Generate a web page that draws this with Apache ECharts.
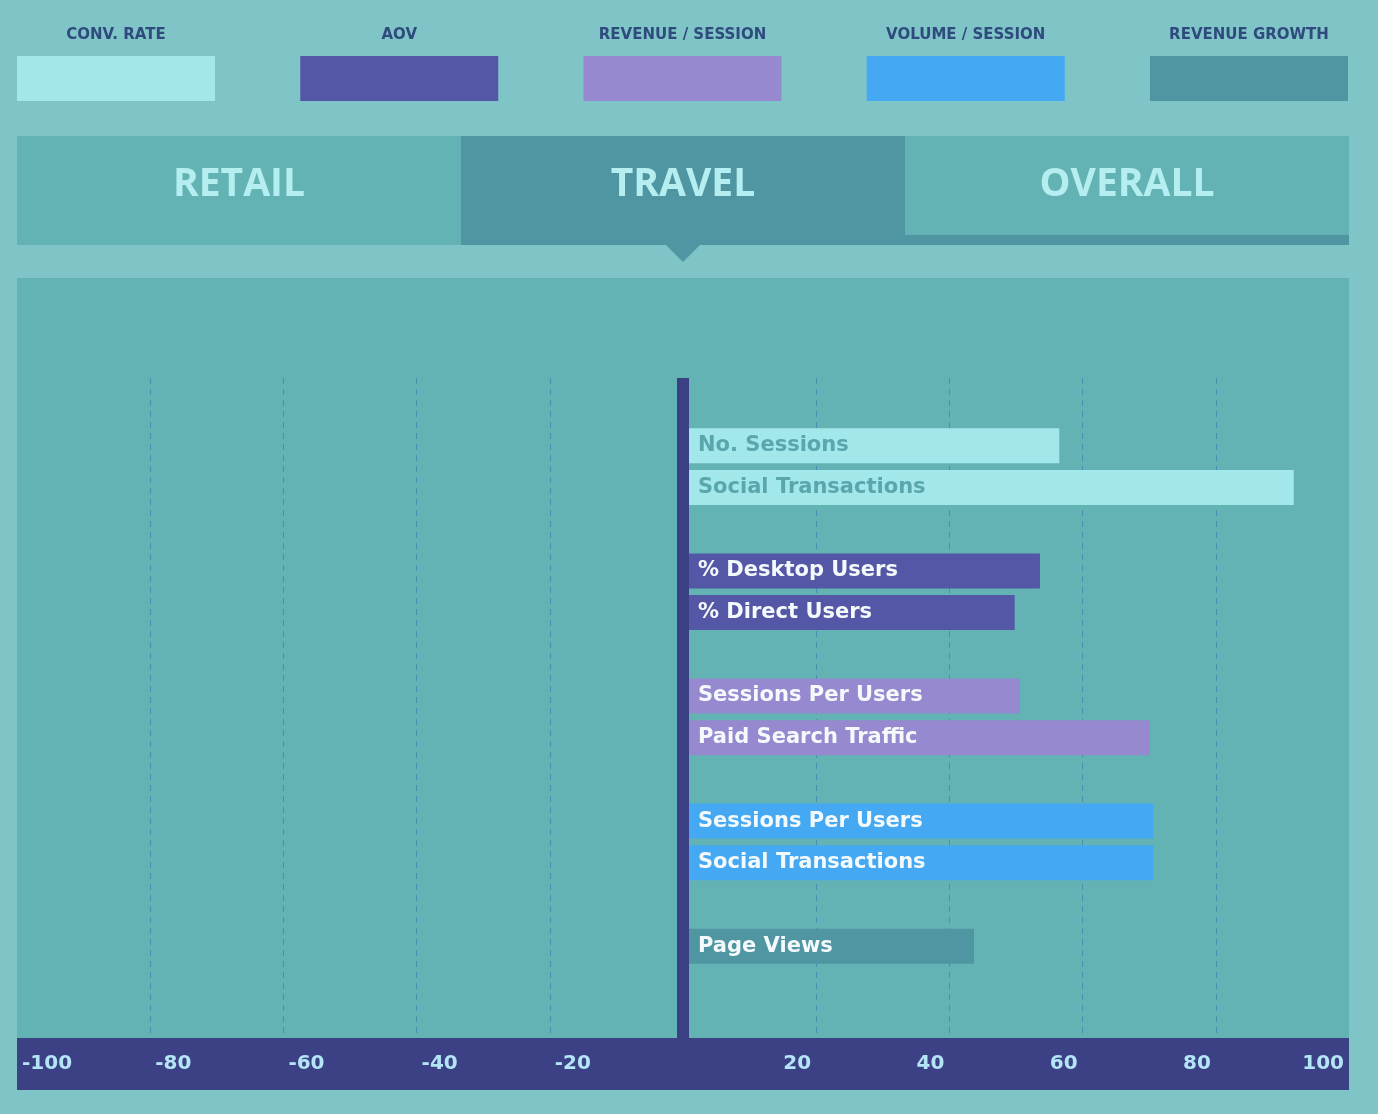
<!DOCTYPE html>
<html>
<head>
<meta charset="utf-8">
<script src="https://cdn.jsdelivr.net/npm/echarts@6/dist/echarts.min.js"></script>
<style>html,body{margin:0;padding:0;background:#7fc5c7;}#c{width:1378px;height:1114px;}</style>
</head>
<body>
<div id="c"></div>
<script>
// ---- data ----
const tabNames = ['RETAIL', 'TRAVEL', 'OVERALL'];
const groupNames = ['CONV. RATE', 'AOV', 'REVENUE / SESSION', 'VOLUME / SESSION', 'REVENUE GROWTH'];
const groupColors = ['#a2e7ea', '#5457a6', '#9689cf', '#45a8f3', '#4f96a2'];

const convRateLabels = ['No. Sessions', 'Social Transactions'];
const convRateValues = [56.5, 91.7];
const aovLabels = ['% Desktop Users', '% Direct Users'];
const aovValues = [53.6, 49.8];
const revSessionLabels = ['Sessions Per Users', 'Paid Search Traffic'];
const revSessionValues = [50.6, 70.1];
const volSessionLabels = ['Sessions Per Users', 'Social Transactions'];
const volSessionValues = [70.6, 70.6];
const revGrowthLabels = ['Page Views'];
const revGrowthValues = [43.7];

const axisTicks = [-100, -80, -60, -40, -20, 0, 20, 40, 60, 80, 100];

// ---- layout helpers ----
const groups = [
  {labels: convRateLabels, values: convRateValues},
  {labels: aovLabels, values: aovValues},
  {labels: revSessionLabels, values: revSessionValues},
  {labels: volSessionLabels, values: volSessionValues},
  {labels: revGrowthLabels, values: revGrowthValues}
];
// each group occupies consecutive rows, separated by one empty row
const rowIds = [];
const groupRows = [];
groups.forEach((g, gi) => {
  const rows = [];
  g.values.forEach(() => { rows.push(rowIds.length); rowIds.push('r' + rowIds.length); });
  groupRows.push(rows);
  if (gi < groups.length - 1) rowIds.push('r' + rowIds.length);
});

const FONT = '"Open Sans", "Noto Sans", sans-serif';
const WIDE = '"DejaVu Sans", "Open Sans", sans-serif';

const series = groups.map((g, gi) => {
  const data = rowIds.map(() => null);
  groupRows[gi].forEach((r, i) => { data[r] = g.values[i]; });
  return {
    name: groupNames[gi],
    type: 'bar',
    xAxisIndex: 2,
    yAxisIndex: 1,
    stack: 'all',
    barWidth: 35,
    z: 2,
    itemStyle: {color: groupColors[gi]},
    label: {
      show: true,
      position: 'insideLeft',
      distance: 15,
      color: gi === 0 ? '#5aa6ad' : '#f4fafc',
      fontFamily: WIDE,
      fontWeight: 'bold',
      fontSize: 21,
      formatter: p => g.labels[groupRows[gi].indexOf(p.dataIndex)] || ''
    },
    data: data
  };
});

// ---- decorations (legend, tabs, panel) ----
const graphic = [];
// panel
graphic.push({type: 'rect', z: -10, shape: {x: 17, y: 278, width: 1332, height: 812}, style: {fill: '#63b3b4'}});
// legend
groupNames.forEach((n, i) => {
  const x = 17 + i * 283.25;
  graphic.push({type: 'rect', shape: {x: x, y: 56, width: 198, height: 45}, style: {fill: groupColors[i]}});
  graphic.push({type: 'text', x: x + 99, y: 35, style: {text: n, fill: '#2f4b7d', font: 'bold 15px ' + WIDE, align: 'center', verticalAlign: 'middle'}});
});
// tabs
const tabW = 444;
tabNames.forEach((t, i) => {
  const x = 17 + i * tabW;
  const active = i === 1;
  if (i === 2) {
    graphic.push({type: 'rect', shape: {x: x, y: 136, width: tabW, height: 99}, style: {fill: '#63b3b4'}});
    graphic.push({type: 'rect', shape: {x: x, y: 235, width: tabW, height: 10}, style: {fill: '#4f96a2'}});
  } else {
    graphic.push({type: 'rect', shape: {x: x, y: 136, width: tabW, height: 109}, style: {fill: active ? '#4f96a2' : '#63b3b4'}});
  }
  if (active) {
    graphic.push({type: 'polygon', shape: {points: [[x + tabW / 2 - 17, 245], [x + tabW / 2 + 17, 245], [x + tabW / 2, 262]]}, style: {fill: '#4f96a2'}});
  }
  graphic.push({type: 'text', x: x + tabW / 2, y: 185, style: {text: t, fill: '#b5eef0', font: 'bold 39px ' + FONT, align: 'center', verticalAlign: 'middle'}});
});

const labelBase = {
  color: '#b3e5f7', fontFamily: WIDE, fontWeight: 'bold', fontSize: 20,
  verticalAlign: 'middle', margin: 0, showMinLabel: true, showMaxLabel: true
};

const option = {
  backgroundColor: '#7fc5c7',
  animation: false,
  graphic: graphic,
  grid: [
    {left: 17, right: 29, top: 378, bottom: 76},
    {left: 17, right: 29, top: 425, bottom: 147}
  ],
  xAxis: [
    {
      gridIndex: 0, type: 'value', min: -100, max: 100, interval: 20, position: 'bottom', offset: 26,
      axisLine: {show: true, onZero: false, lineStyle: {color: '#3c4084', width: 52, cap: 'butt'}},
      axisTick: {show: false},
      splitLine: {show: true, showMinLine: false, showMaxLine: false, lineStyle: {color: '#4d8db0', width: 1, type: [6, 5]}},
      axisLabel: Object.assign({}, labelBase, {
        align: 'left', padding: [0, 0, 0, 5],
        formatter: v => (v < 0 && axisTicks.indexOf(v) >= 0) ? String(v) : ''
      })
    },
    {
      gridIndex: 0, type: 'value', min: -100, max: 100, interval: 20, position: 'bottom', offset: 26,
      axisLine: {show: false, onZero: false},
      axisTick: {show: false},
      splitLine: {show: false},
      axisLabel: Object.assign({}, labelBase, {
        align: 'right', padding: [0, 5, 0, 0],
        formatter: v => (v > 0 && axisTicks.indexOf(v) >= 0) ? String(v) : ''
      })
    },
    {gridIndex: 1, type: 'value', min: -100, max: 100, show: false}
  ],
  yAxis: [
    {
      gridIndex: 0, type: 'category', data: [''], z: 5,
      axisLine: {show: true, onZero: true, onZeroAxisIndex: 0, lineStyle: {color: '#3b3f83', width: 12, cap: 'butt'}},
      axisTick: {show: false}, axisLabel: {show: false}, splitLine: {show: false}
    },
    {gridIndex: 1, type: 'category', inverse: true, data: rowIds, show: false}
  ],
  series: series
};

const chart = echarts.init(document.getElementById('c'), null, {renderer: 'canvas'});
chart.setOption(option);
</script>
</body>
</html>
